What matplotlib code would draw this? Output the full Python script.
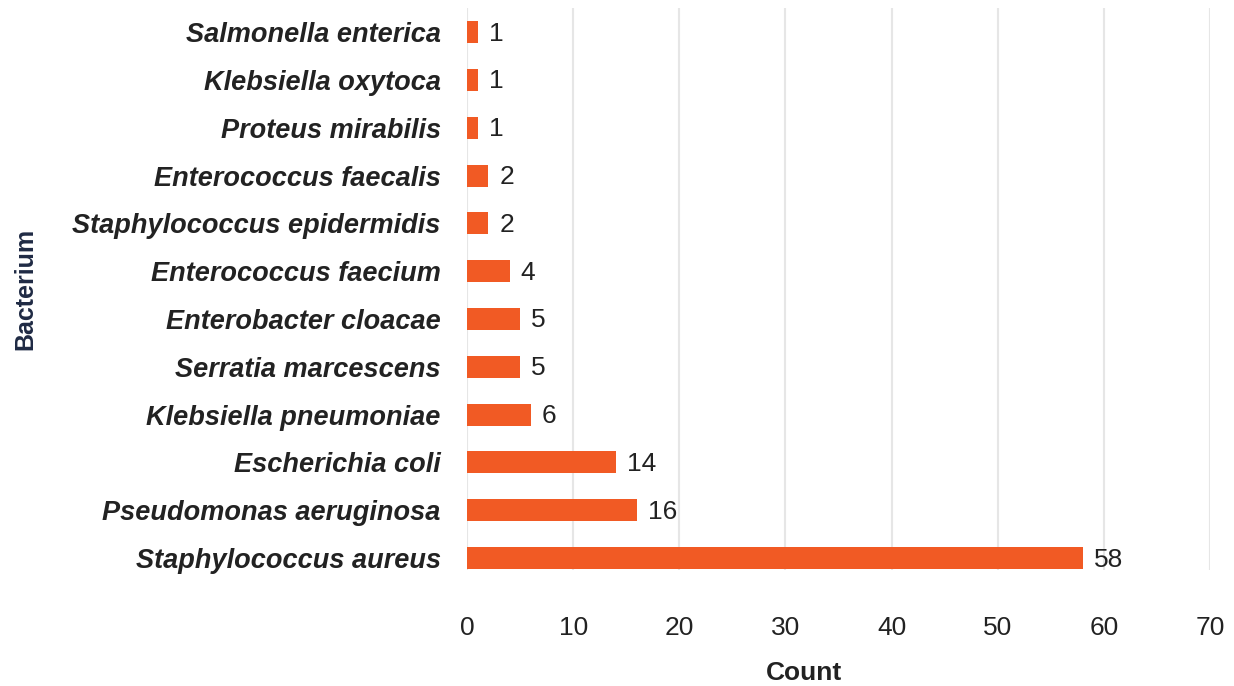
import matplotlib
matplotlib.use("Agg")
import matplotlib.pyplot as plt
import numpy as np

bacteria = [
    "Staphylococcus aureus",
    "Pseudomonas aeruginosa",
    "Escherichia coli",
    "Klebsiella pneumoniae",
    "Serratia marcescens",
    "Enterobacter cloacae",
    "Enterococcus faecium",
    "Staphylococcus epidermidis",
    "Enterococcus faecalis",
    "Proteus mirabilis",
    "Klebsiella oxytoca",
    "Salmonella enterica",
]
counts = [58, 16, 14, 6, 5, 5, 4, 2, 2, 1, 1, 1]

BAR_COLOR = "#F15A24"
FONT = ["Liberation Sans", "DejaVu Sans"]

fig = plt.figure(figsize=(12.34, 6.86), dpi=100)
ax = fig.add_axes([0.3785, 0.169, 0.6021, 0.819])

y = np.arange(len(bacteria))
bars = ax.barh(y, counts, height=0.46, color=BAR_COLOR, zorder=3)

for rect, v in zip(bars, counts):
    ax.annotate(f"{v}", xy=(rect.get_width(), rect.get_y() + rect.get_height() / 2),
                xytext=(8, -1), textcoords="offset points", ha="left", va="center",
                fontsize=19, color="#222222", family=FONT)

ax.set_xlim(0, 70)
ax.set_ylim(-0.25, 11.5)
ax.set_xticks(np.arange(0, 71, 10))
ax.set_yticks(y)
ax.set_yticklabels(bacteria, fontsize=19.5, fontweight="bold", fontstyle="italic",
                   color="#222222", family=FONT)
for lab in ax.get_xticklabels():
    lab.set_family(FONT)
    lab.set_fontsize(19)
    lab.set_color("#222222")

ax.tick_params(axis="x", length=0, pad=33)
ax.tick_params(axis="y", length=0, pad=19)
ax.grid(axis="x", color="#E6E6E6", linewidth=1.5, zorder=0)
for s in ax.spines.values():
    s.set_visible(False)

ax.set_xlabel("Count", fontsize=19, fontweight="bold", color="#222222", family=FONT)
ax.xaxis.set_label_coords(0.4536, -0.161)
ax.set_ylabel("Bacterium", fontsize=18, fontweight="bold", color="#1F2A44",
              family=FONT)
ax.yaxis.set_label_coords(-0.578, 0.5)

plt.savefig("out.png", dpi=100)
